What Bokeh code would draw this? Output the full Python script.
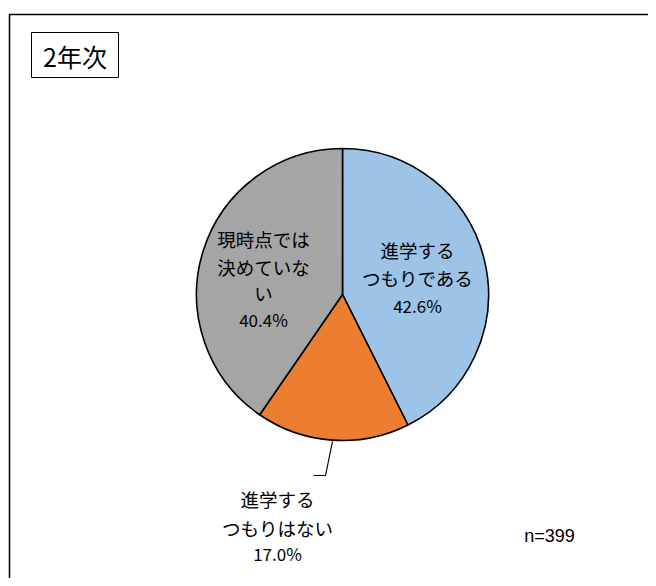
import numpy as np
from bokeh.plotting import figure
from bokeh.models import Range1d
from bokeh.core.properties import value
from bokeh.embed import file_html
from bokeh.resources import INLINE

# ---- data ----
title = "2年次"
categories = ["進学する\nつもりである", "進学する\nつもりはない", "現時点では\n決めていな\nい"]
shares = [42.6, 17.0, 40.4]
colors = ["#9DC3E6", "#ED7D31", "#A5A5A5"]
n_label = "n=399"

W, H = 648, 578
p = figure(width=W, height=H, output_backend="svg", toolbar_location=None,
           x_range=Range1d(0, W), y_range=Range1d(0, H), min_border=0)
p.axis.visible = False
p.grid.visible = False
p.outline_line_color = None
p.background_fill_color = "white"
p.border_fill_color = "white"

def Y(sy):  # reference y -> data y
    return H - sy

def X(sx):
    return sx

FONT = value("Noto Sans CJK JP")

# outer frame (extends beyond the visible area on the right and bottom)
p.quad(left=[X(9)], right=[X(800)], top=[Y(14)], bottom=[Y(800)],
       fill_color=None, line_color="black", line_width=1.5)

# title box
p.quad(left=[X(31)], right=[X(118)], top=[Y(32)], bottom=[Y(77)],
       fill_color="white", line_color="black", line_width=1)
p.text(x=[X(74.5)], y=[Y(55)], text=[title], text_font=FONT,
       text_font_size="25px", text_align="center", text_baseline="middle",
       text_color="black")

# pie
cx, cy, r = X(342), Y(294), 146
frac = np.array(shares) / np.sum(shares)
cum = np.concatenate([[0], np.cumsum(frac)])
start = np.pi / 2 - 2 * np.pi * cum[:-1]
end = np.pi / 2 - 2 * np.pi * cum[1:]
p.wedge(x=cx, y=cy, radius=r, start_angle=start, end_angle=end,
        direction="clock", fill_color=colors, line_color="black",
        line_width=1.6)

# labels (centres in reference pixels)
label_pos = [(417, [249, 277, 304.5]),
             (277, [498, 527, 553]),
             (263, [238, 266, 292, 319])]
for (lx, ys), cat, s in zip(label_pos, categories, shares):
    lines = cat.split("\n") + [f"{s:.1f}%"]
    for i, (t, yy) in enumerate(zip(lines, ys)):
        is_pct = i == len(lines) - 1
        p.text(x=[X(lx)], y=[Y(yy)], text=[t], text_font=FONT,
               text_font_size="17px" if is_pct else "18.5px",
               text_align="center", text_baseline="middle",
               text_color="black")

# leader line for the small slice
p.line(x=[X(332), X(325), X(313)], y=[Y(441), Y(475), Y(475)],
       line_color="black", line_width=1.2)

# sample size
p.text(x=[X(549)], y=[Y(535)], text=[n_label], text_font=value("Liberation Sans"),
       text_font_size="18px", text_align="center", text_baseline="middle",
       text_color="black")

open("out.html", "w").write(file_html(p, INLINE))
